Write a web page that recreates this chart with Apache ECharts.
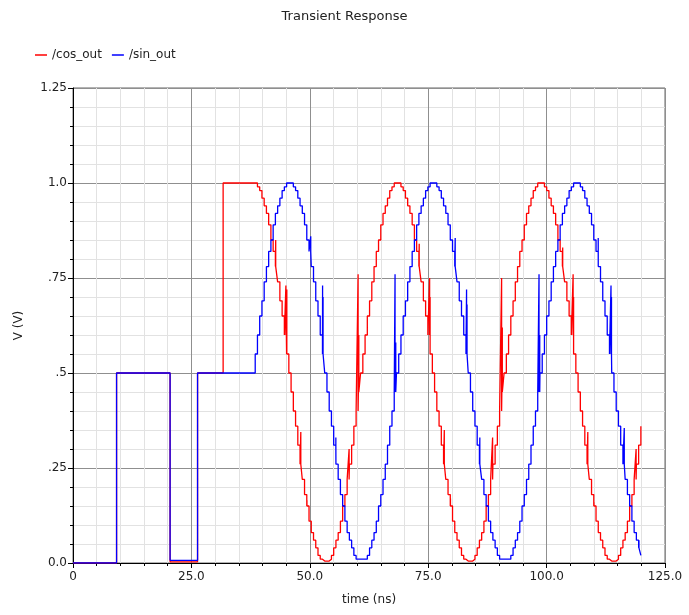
<!DOCTYPE html>
<html>
<head>
<meta charset="utf-8">
<title>Transient Response</title>
<script src="https://cdn.jsdelivr.net/npm/echarts@6/dist/echarts.min.js"></script>
<style>
  html, body { margin: 0; padding: 0; background: #fff; }
  #chart { width: 689px; height: 615px; }
</style>
</head>
<body>
<div id="chart"></div>
<script>
// tick labels as drawn on the axes
const xTicks = [0, 25, 50, 75, 100, 125]
const xTickLabels = ['0', '25.0', '50.0', '75.0', '100.0', '125.0']
const yTicks = [0, 0.25, 0.5, 0.75, 1, 1.25]
const yTickLabels = ['0.0', '.25', '.5', '.75', '1.0', '1.25']

const seriesNames = ['/cos_out', '/sin_out']

// start-up part before the DDS runs (time ns, volts)
const cosStartup = [[0, 0], [9.2, 0.5], [20.5, 0.003], [26.3, 0.5], [31.7, 1.0]]
const sinStartup = [[0, 0], [9.2, 0.5], [20.5, 0.007], [26.3, 0.5]]

// sampled (held) outputs from 38 ns, one value per clock
const sampleStart = 38
const sampleStep = 30.3 / 64
const endTime = 120

const cosSamples = [
  1.00, 1.00, 0.99, 0.98, 0.96, 0.94, 0.92, 0.89, 0.85, 0.82, 0.78, 0.74, 0.69, 0.65, 0.60, 0.55,
  0.50, 0.45, 0.40, 0.36, 0.31, 0.26, 0.22, 0.18, 0.15, 0.11, 0.08, 0.06, 0.04, 0.02, 0.01, 0.005,
  0.005, 0.005, 0.01, 0.02, 0.04, 0.06, 0.08, 0.11, 0.15, 0.18, 0.22, 0.26, 0.31, 0.36, 0.40, 0.45,
  0.50, 0.55, 0.60, 0.65, 0.69, 0.74, 0.78, 0.82, 0.85, 0.89, 0.92, 0.94, 0.96, 0.98, 0.99, 1.00,
  1.00, 1.00, 0.99, 0.98, 0.96, 0.94, 0.92, 0.89, 0.85, 0.82, 0.78, 0.74, 0.69, 0.65, 0.60, 0.55,
  0.50, 0.45, 0.40, 0.36, 0.31, 0.26, 0.22, 0.18, 0.15, 0.11, 0.08, 0.06, 0.04, 0.02, 0.01, 0.005,
  0.005, 0.005, 0.01, 0.02, 0.04, 0.06, 0.08, 0.11, 0.15, 0.18, 0.22, 0.26, 0.31, 0.36, 0.40, 0.45,
  0.50, 0.55, 0.60, 0.65, 0.69, 0.74, 0.78, 0.82, 0.85, 0.89, 0.92, 0.94, 0.96, 0.98, 0.99, 1.00,
  1.00, 1.00, 0.99, 0.98, 0.96, 0.94, 0.92, 0.89, 0.85, 0.82, 0.78, 0.74, 0.69, 0.65, 0.60, 0.55,
  0.50, 0.45, 0.40, 0.36, 0.31, 0.26, 0.22, 0.18, 0.15, 0.11, 0.08, 0.06, 0.04, 0.02, 0.01, 0.005,
  0.005, 0.005, 0.01, 0.02, 0.04, 0.06, 0.08, 0.11, 0.15, 0.18, 0.22, 0.26, 0.31, 0.36
]

const sinSamples = [
  0.50, 0.55, 0.60, 0.65, 0.69, 0.74, 0.78, 0.82, 0.85, 0.89, 0.92, 0.94, 0.96, 0.98, 0.99, 1.00,
  1.00, 1.00, 0.99, 0.98, 0.96, 0.94, 0.92, 0.89, 0.85, 0.82, 0.78, 0.74, 0.69, 0.65, 0.60, 0.55,
  0.50, 0.45, 0.40, 0.36, 0.31, 0.26, 0.22, 0.18, 0.15, 0.11, 0.08, 0.06, 0.04, 0.02, 0.01, 0.01,
  0.01, 0.01, 0.01, 0.02, 0.04, 0.06, 0.08, 0.11, 0.15, 0.18, 0.22, 0.26, 0.31, 0.36, 0.40, 0.45,
  0.50, 0.55, 0.60, 0.65, 0.69, 0.74, 0.78, 0.82, 0.85, 0.89, 0.92, 0.94, 0.96, 0.98, 0.99, 1.00,
  1.00, 1.00, 0.99, 0.98, 0.96, 0.94, 0.92, 0.89, 0.85, 0.82, 0.78, 0.74, 0.69, 0.65, 0.60, 0.55,
  0.50, 0.45, 0.40, 0.36, 0.31, 0.26, 0.22, 0.18, 0.15, 0.11, 0.08, 0.06, 0.04, 0.02, 0.01, 0.01,
  0.01, 0.01, 0.01, 0.02, 0.04, 0.06, 0.08, 0.11, 0.15, 0.18, 0.22, 0.26, 0.31, 0.36, 0.40, 0.45,
  0.50, 0.55, 0.60, 0.65, 0.69, 0.74, 0.78, 0.82, 0.85, 0.89, 0.92, 0.94, 0.96, 0.98, 0.99, 1.00,
  1.00, 1.00, 0.99, 0.98, 0.96, 0.94, 0.92, 0.89, 0.85, 0.82, 0.78, 0.74, 0.69, 0.65, 0.60, 0.55,
  0.50, 0.45, 0.40, 0.36, 0.31, 0.26, 0.22, 0.18, 0.15, 0.11, 0.08, 0.06, 0.04, 0.02
]

// glitch spikes seen in the plot: [time ns, peak volts]
const cosGlitches = [
  [42.8, 0.85], [44.95, 0.73], [45.05, 0.70], [45.15, 0.72], [48.1, 0.345], [49.4, 0.165],
  [58.3, 0.30], [60.2, 0.76], [60.35, 0.60],
  [73.1, 0.84], [75.3, 0.75], [75.4, 0.70], [78.4, 0.35], [79.7, 0.17],
  [88.6, 0.33], [90.5, 0.75], [90.65, 0.62],
  [103.4, 0.83], [105.6, 0.76], [105.7, 0.70], [108.7, 0.345], [110.0, 0.16],
  [118.9, 0.30]
]
const sinGlitches = [
  [50.2, 0.86], [52.7, 0.73], [52.8, 0.70], [55.5, 0.33],
  [68.0, 0.76], [68.15, 0.58],
  [80.7, 0.855], [83.1, 0.72], [83.2, 0.68], [85.9, 0.33],
  [98.4, 0.76], [98.55, 0.60],
  [110.9, 0.855], [113.6, 0.73], [113.7, 0.70], [116.4, 0.355],
  [119.5, 0.06]
]

// startup + held samples, with each glitch drawn as a spike from the held level
const buildData = (startup, samples, glitches) => {
  const data = startup.map(p => [p[0], p[1]])
  let g = 0
  samples.forEach((v, i) => {
    const t = sampleStart + i * sampleStep
    data.push([t, v])
    while (g < glitches.length && glitches[g][0] < t + sampleStep) {
      data.push([glitches[g][0], glitches[g][1]], [glitches[g][0], v])
      g++
    }
  })
  data.push([endTime, samples[samples.length - 1]])
  return data
}

const chartInstance = echarts.init(document.getElementById('chart'), null, { renderer: 'canvas' })

const fontFamily = 'DejaVu Sans'
const textColor = '#222'

const option = {
  animation: false,
  backgroundColor: '#fff',
  title: {
    text: 'Transient Response',
    left: 'center',
    top: 5,
    textStyle: { fontFamily, fontSize: 13, fontWeight: 'normal', color: textColor }
  },
  legend: {
    data: seriesNames,
    left: 30,
    top: 44,
    icon: 'rect',
    itemWidth: 12,
    itemHeight: 1.5,
    itemGap: 10,
    textStyle: { fontFamily, fontSize: 12, color: textColor }
  },
  grid: {
    left: 73,
    right: 24,
    top: 88,
    bottom: 52,
    show: true,
    borderColor: '#666',
    borderWidth: 1,
    backgroundColor: 'transparent'
  },
  xAxis: {
    type: 'value',
    min: 0,
    max: 125,
    interval: 25,
    name: 'time (ns)',
    nameLocation: 'middle',
    nameGap: 31,
    nameTextStyle: { fontFamily, fontSize: 12, color: textColor },
    axisLine: { lineStyle: { color: '#000', width: 1 } },
    axisTick: { show: true, inside: false, length: 5, lineStyle: { color: '#000' } },
    minorTick: { show: true, splitNumber: 5, length: 3, lineStyle: { color: '#000' } },
    axisLabel: {
      fontFamily, fontSize: 12, color: textColor, margin: 8,
      formatter: v => {
        const i = xTicks.indexOf(v)
        return i >= 0 ? xTickLabels[i] : ''
      }
    },
    splitLine: { show: true, lineStyle: { color: '#8f8f8f', width: 1 } },
    minorSplitLine: { show: true, lineStyle: { color: '#e2e2e2', width: 1 } }
  },
  yAxis: {
    type: 'value',
    min: 0,
    max: 1.25,
    interval: 0.25,
    name: 'V (V)',
    nameLocation: 'middle',
    nameGap: 48,
    nameTextStyle: { fontFamily, fontSize: 12, color: textColor },
    axisLine: { show: true, lineStyle: { color: '#000', width: 1 } },
    axisTick: { show: true, inside: false, length: 5, lineStyle: { color: '#000' } },
    minorTick: { show: true, splitNumber: 5, length: 3, lineStyle: { color: '#000' } },
    axisLabel: {
      fontFamily, fontSize: 12, color: textColor, margin: 6,
      formatter: v => {
        const i = yTicks.findIndex(t => Math.abs(t - v) < 1e-9)
        return i >= 0 ? yTickLabels[i] : ''
      }
    },
    splitLine: { show: true, lineStyle: { color: '#8f8f8f', width: 1 } },
    minorSplitLine: { show: true, lineStyle: { color: '#e2e2e2', width: 1 } }
  },
  series: [
    {
      name: seriesNames[0],
      type: 'line',
      step: 'end',
      symbol: 'none',
      color: '#ff0000',
      lineStyle: { color: '#ff0000', width: 1.3 },
      data: buildData(cosStartup, cosSamples, cosGlitches)
    },
    {
      name: seriesNames[1],
      type: 'line',
      step: 'end',
      symbol: 'none',
      color: '#0000ff',
      lineStyle: { color: '#0000ff', width: 1.3 },
      data: buildData(sinStartup, sinSamples, sinGlitches)
    }
  ]
}

chartInstance.setOption(option)
</script>
</body>
</html>
